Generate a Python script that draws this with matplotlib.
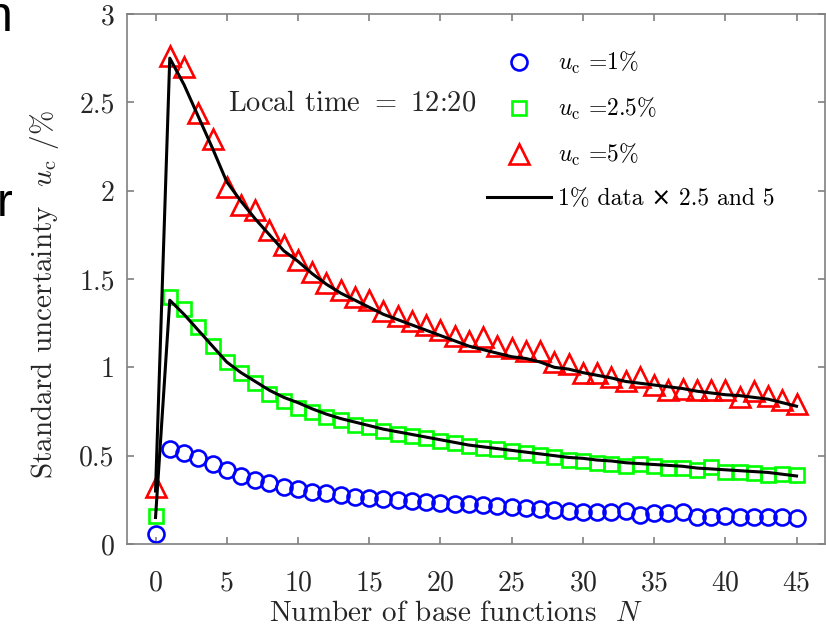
import matplotlib
matplotlib.use('Agg')
import matplotlib.pyplot as plt
from matplotlib.lines import Line2D

# Computer Modern look for all text
plt.rcParams['font.family'] = ['cmr10', 'DejaVu Sans']
plt.rcParams['mathtext.fontset'] = 'cm'
plt.rcParams['axes.formatter.use_mathtext'] = True
plt.rcParams['axes.unicode_minus'] = False

# number of base functions
n_base = list(range(46))

# standard uncertainty for u_c = 1 %
unc_1 = [0.057, 0.54, 0.515, 0.487, 0.453, 0.419, 0.385, 0.362, 0.345, 0.323,
         0.311, 0.295, 0.289, 0.275, 0.268, 0.262, 0.255, 0.25, 0.245, 0.24,
         0.232, 0.228, 0.225, 0.22, 0.214, 0.21, 0.205, 0.2, 0.195, 0.188,
         0.183, 0.183, 0.183, 0.188, 0.164, 0.174, 0.174, 0.179, 0.155, 0.155,
         0.158, 0.151, 0.155, 0.155, 0.155, 0.146]

# standard uncertainty for u_c = 2.5 %
unc_25 = [0.16, 1.40, 1.33, 1.23, 1.12, 1.03, 0.97, 0.91, 0.85, 0.81,
          0.77, 0.745, 0.72, 0.70, 0.675, 0.66, 0.64, 0.625, 0.61, 0.60,
          0.585, 0.57, 0.555, 0.545, 0.535, 0.525, 0.515, 0.505, 0.495, 0.475,
          0.47, 0.46, 0.455, 0.44, 0.455, 0.44, 0.43, 0.43, 0.42, 0.435,
          0.41, 0.41, 0.40, 0.39, 0.395, 0.39]

# standard uncertainty for u_c = 5 %
unc_5 = [0.32, 2.76, 2.70, 2.44, 2.29, 2.02, 1.92, 1.89, 1.78, 1.69,
         1.61, 1.54, 1.48, 1.44, 1.40, 1.38, 1.32, 1.29, 1.26, 1.24,
         1.21, 1.18, 1.15, 1.17, 1.12, 1.11, 1.09, 1.09, 1.03, 1.02,
         0.97, 0.97, 0.945, 0.92, 0.945, 0.90, 0.87, 0.88, 0.87, 0.87,
         0.87, 0.83, 0.866, 0.84, 0.815, 0.79]

# 1 % data scaled by 2.5 and by 5
scaled_25 = [0.15, 1.38, 1.30, 1.21, 1.12, 1.03, 0.97, 0.92, 0.87, 0.83,
             0.80, 0.765, 0.735, 0.71, 0.69, 0.67, 0.65, 0.635, 0.62, 0.605,
             0.59, 0.575, 0.56, 0.55, 0.54, 0.53, 0.52, 0.51, 0.50, 0.49,
             0.485, 0.475, 0.47, 0.46, 0.455, 0.45, 0.445, 0.44, 0.43, 0.425,
             0.42, 0.415, 0.41, 0.405, 0.395, 0.385]
scaled_5 = [0.30, 2.75, 2.60, 2.42, 2.24, 2.05, 1.94, 1.84, 1.75, 1.66,
            1.60, 1.53, 1.47, 1.42, 1.38, 1.34, 1.30, 1.27, 1.24, 1.21,
            1.18, 1.15, 1.12, 1.10, 1.08, 1.06, 1.05, 1.03, 1.00, 0.99,
            0.97, 0.955, 0.94, 0.92, 0.91, 0.90, 0.89, 0.88, 0.865, 0.855,
            0.845, 0.84, 0.83, 0.82, 0.80, 0.78]

x_ticks = [0, 5, 10, 15, 20, 25, 30, 35, 40, 45]
y_ticks = [0, 0.5, 1, 1.5, 2, 2.5, 3]

fig = plt.figure(figsize=(8.26, 6.33), dpi=100)
ax = fig.add_axes([0.1538, 0.1406, 0.845, 0.8373])

ax.plot(n_base, scaled_5, color='black', lw=2.2, zorder=3)
ax.plot(n_base, scaled_25, color='black', lw=2.2, zorder=3)
ax.plot(n_base, unc_1, 'o', ms=11.5, mfc='none', mec='#0000ff', mew=1.9, zorder=2)
ax.plot(n_base, unc_25, 's', ms=10.5, mfc='none', mec='#00ff00', mew=1.9, zorder=2)
ax.plot(n_base, unc_5, '^', ms=14.5, mfc='none', mec='#ff0000', mew=1.9, zorder=2)

ax.set_xlim(-2, 47)
ax.set_ylim(0, 3)
ax.set_xticks(x_ticks)
ax.set_yticks(y_ticks)
ax.set_yticklabels(['0', '0.5', '1', '1.5', '2', '2.5', '3'])

axis_grey = '#808080'
for s in ax.spines.values():
    s.set_color(axis_grey)
    s.set_linewidth(1.2)
ax.tick_params(direction='in', top=True, right=True, length=5, width=1.2,
               color=axis_grey, labelcolor='#262626', labelsize=20)
ax.tick_params(axis='x', pad=19)
ax.tick_params(axis='y', pad=9)

ax.set_xlabel(r'Number of base functions  $N$', fontsize=21, color='#262626')
ax.xaxis.set_label_coords(0.471, -0.106)
ax.set_ylabel(r'Standard uncertainty  $u_{\rm c}$ /%', fontsize=21,
              color='#262626')
ax.yaxis.set_label_coords(-0.094, 0.47)

fig.text(228 / 826, 1 - 103 / 633, r'Local time $=$ 12:20', fontsize=20.5,
         color='#262626', va='center', ha='left')

handles = [
    Line2D([], [], ls='none', marker='o', ms=11.5, mfc='none', mec='#0000ff', mew=1.9),
    Line2D([], [], ls='none', marker='s', ms=10.5, mfc='none', mec='#00ff00', mew=1.9),
    Line2D([], [], ls='none', marker='^', ms=14.5, mfc='none', mec='#ff0000', mew=1.9),
    Line2D([], [], color='black', lw=2.2),
]
labels = [r'$u_{\rm c}$ =1%', r'$u_{\rm c}$ =2.5%', r'$u_{\rm c}$ =5%',
          '1% data × 2.5 and 5']
ax.legend(handles, labels, loc='upper left', bbox_to_anchor=(487 / 826, 1 - 50 / 633),
          bbox_transform=fig.transFigure, frameon=False, fontsize=17,
          handlelength=2.7, handletextpad=0.3, labelspacing=0.85, borderpad=0,
          borderaxespad=0)

# fragments of neighbouring text at the left edge
fig.text(13 / 826, 1 - 31 / 633, 'n', family='Liberation Sans', fontsize=36,
         ha='right', va='baseline', color='black')
fig.text(12 / 826, 1 - 216 / 633, 'r', family='Liberation Sans', fontsize=34,
         ha='right', va='baseline', color='black')

fig.savefig('out.png', dpi=100)
